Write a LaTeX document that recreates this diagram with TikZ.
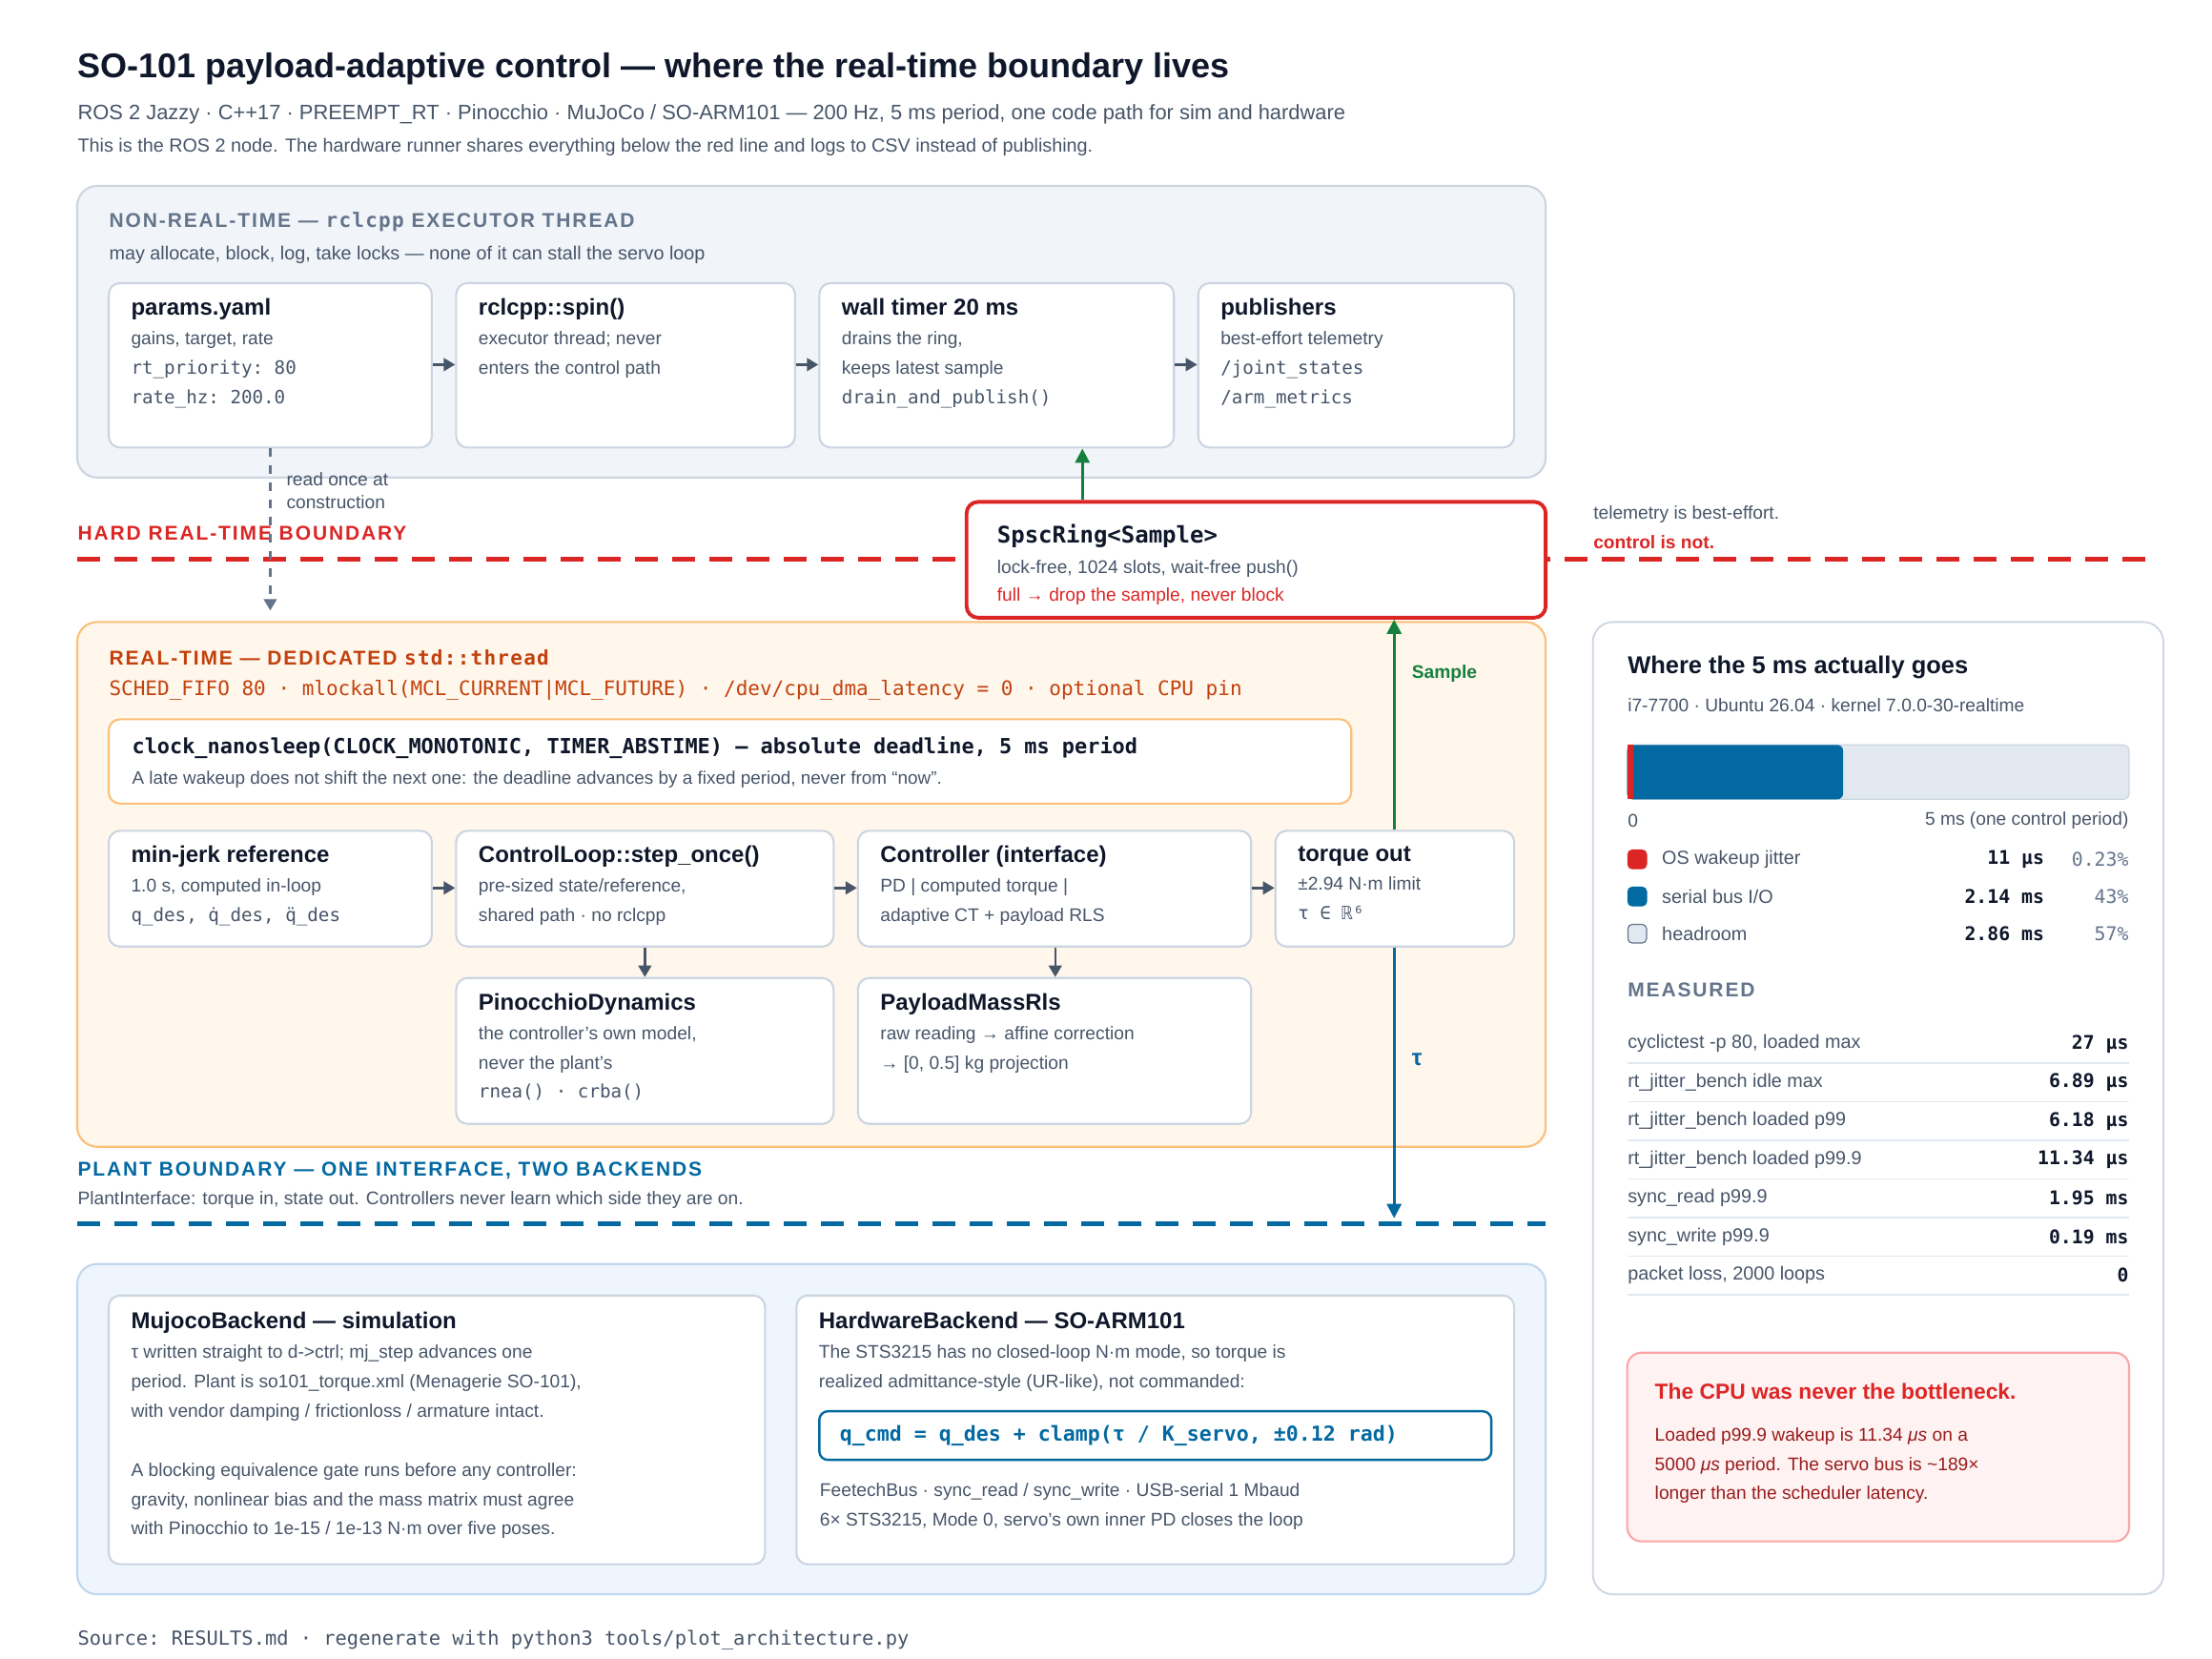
\documentclass[tikz,border=0pt]{standalone}
\usepackage{fontspec}
\setmainfont{Liberation Sans}
\setmonofont{DejaVu Sans Mono}
\newfontfamily\spaced[LetterSpace=9]{Liberation Sans}
\newfontfamily\spacedmono[LetterSpace=6]{DejaVu Sans Mono}
\usetikzlibrary{arrows.meta,positioning,fit}

\definecolor{ink}{HTML}{0F172A}
\definecolor{slate}{HTML}{475569}
\definecolor{mute}{HTML}{64748B}
\definecolor{cardline}{HTML}{CBD5E1}
\definecolor{nrtfill}{HTML}{F1F5F9}
\definecolor{rtfill}{HTML}{FFF6EC}
\definecolor{rtline}{HTML}{FBBF77}
\definecolor{rtink}{HTML}{C2410C}
\definecolor{hardred}{HTML}{DC2626}
\definecolor{plantblue}{HTML}{0369A1}
\definecolor{plantfill}{HTML}{EFF5FC}
\definecolor{plantline}{HTML}{BFD7EE}
\definecolor{okgreen}{HTML}{15803D}
\definecolor{barbg}{HTML}{E2E8F0}
\definecolor{warnfill}{HTML}{FEF2F2}
\definecolor{warnline}{HTML}{FCA5A5}
\definecolor{warnink}{HTML}{991B1B}

\newcommand{\ctitle}[1]{{\fontsize{8}{10.3}\selectfont\bfseries\color{ink}#1}}
\newcommand{\code}[1]{{\ttfamily #1}}

\tikzset{
  card/.style = {draw=cardline, fill=white, rounded corners=4pt, line width=0.7pt, inner sep=0pt},
  txt/.style = {inner sep=0pt, anchor=west, text=ink},
  body/.style = {inner sep=0pt, anchor=north west, align=left, text=slate,
    font=\fontsize{6.4}{10.3}\selectfont},
  flow/.style = {-{Triangle[length=4pt,width=4.5pt]}, draw=slate, line width=0.8pt},
  heading/.style = {txt, font=\fontsize{7}{8}\selectfont\spaced\bfseries}
}

\begin{document}
\begin{tikzpicture}[x=0.5pt, y=-0.5pt]
  \useasboundingbox[fill=white] (0,0) rectangle (1547,1160);

  % Title
  \node[txt, font=\fontsize{12}{14}\selectfont\bfseries] (title) at (54,48)
    {SO-101 payload-adaptive control — where the real-time boundary lives};
  \node[txt, text=slate, font=\fontsize{7.3}{9}\selectfont] (sub) at (54,80)
    {ROS 2 Jazzy · C++17 · PREEMPT\_RT · Pinocchio · MuJoCo / SO-ARM101 — 200 Hz, 5 ms period, one code path for sim and hardware};
  \node[txt, text=slate, font=\fontsize{6.6}{8}\selectfont] (note) at (54,103)
    {This is the ROS 2 node. The hardware runner shares everything below the red line and logs to CSV instead of publishing.};

  % Non-real-time panel
  \node[draw=cardline, fill=nrtfill, rounded corners=7pt, line width=0.7pt, inner sep=0pt,
    fit={(54,130) (1081,334)}] (nrt) {};
  \node[heading, text=mute] (nrtH) at (76,155)
    {NON-REAL-TIME — {\spacedmono rclcpp} EXECUTOR THREAD};
  \node[txt, text=slate, font=\fontsize{6.6}{8}\selectfont] (nrtC) at (76,178)
    {may allocate, block, log, take locks — none of it can stall the servo loop};

  \node[card, fit={(76,198) (302,313)}] (params) {};
  \node[body] at ([xshift=8pt,yshift=-5.5pt]params.north west)
    {\ctitle{params.yaml}\\gains, target, rate\\\code{rt\_priority: 80}\\\code{rate\_hz: 200.0}};
  \node[card, fit={(319,198) (556,313)}] (spin) {};
  \node[body] at ([xshift=8pt,yshift=-5.5pt]spin.north west)
    {\ctitle{rclcpp::spin()}\\executor thread; never\\enters the control path};
  \node[card, fit={(573,198) (821,313)}] (timer) {};
  \node[body] at ([xshift=8pt,yshift=-5.5pt]timer.north west)
    {\ctitle{wall timer 20 ms}\\drains the ring,\\keeps latest sample\\\code{drain\_and\_publish()}};
  \node[card, fit={(838,198) (1059,313)}] (pubs) {};
  \node[body] at ([xshift=8pt,yshift=-5.5pt]pubs.north west)
    {\ctitle{publishers}\\best-effort telemetry\\\code{/joint\_states}\\\code{/arm\_metrics}};

  \draw[flow] (params.east |- 0,255) -- (spin.west |- 0,255);
  \draw[flow] (spin.east |- 0,255) -- (timer.west |- 0,255);
  \draw[flow] (timer.east |- 0,255) -- (pubs.west |- 0,255);

  % Hard real-time boundary
  \node[heading, text=hardred] (hardH) at (54,373) {HARD REAL-TIME BOUNDARY};
  \draw[hardred, line width=1.6pt, dash pattern=on 8pt off 5pt] (54,391) -- (1505,391);
  \node[txt, text=slate, font=\fontsize{6.4}{8}\selectfont] (bestE) at (1114,360) {telemetry is best-effort.};
  \node[txt, text=hardred, font=\fontsize{6.4}{8}\selectfont\bfseries] (ctrlN) at (1114,379) {control is not.};

  % Real-time panel
  \node[draw=rtline, fill=rtfill, rounded corners=7pt, line width=0.7pt, inner sep=0pt,
    fit={(54,435) (1081,802)}] (rt) {};
  \node[card, draw=hardred, line width=1.3pt, fit={(676,351) (1081,432)}] (ring) {};
  \node[txt, font=\fontsize{8}{10}\selectfont\ttfamily\bfseries] (ringT) at (697,375) {SpscRing<Sample>};
  \node[txt, text=slate, font=\fontsize{6.4}{8}\selectfont] (ringA) at (697,398) {lock-free, 1024 slots, wait-free push()};
  \node[txt, text=hardred, font=\fontsize{6.4}{8}\selectfont] (ringB) at (697,417) {full → drop the sample, never block};

  \draw[dashed, draw=mute, line width=0.8pt, -{Triangle[length=4pt,width=4.5pt]}]
    (params.south -| 189,0) -- (189,427) coordinate (readEnd);
  \node[body, font=\fontsize{6.4}{8}\selectfont] (readN) at (200,330) {read once at\\construction};

  \node[heading, text=rtink] (rtH) at (76,460)
    {REAL-TIME — DEDICATED {\spacedmono std::thread}};
  \node[txt, text=rtink, font=\fontsize{7}{8}\selectfont\ttfamily] (rtC) at (76,483)
    {SCHED\_FIFO 80 · mlockall(MCL\_CURRENT|MCL\_FUTURE) · /dev/cpu\_dma\_latency = 0 · optional CPU pin};

  \node[card, draw=rtline, fit={(76,503) (945,562)}] (clock) {};
  \node[txt, font=\fontsize{7.3}{9}\selectfont\ttfamily\bfseries] (clockT) at (92,523)
    {clock\_nanosleep(CLOCK\_MONOTONIC, TIMER\_ABSTIME) — absolute deadline, 5 ms period};
  \node[txt, text=slate, font=\fontsize{6.3}{8}\selectfont] (clockN) at (92,545)
    {A late wakeup does not shift the next one: the deadline advances by a fixed period, never from “now”.};

  \node[card, fit={(76,581) (302,662)}] (minjerk) {};
  \node[body] at ([xshift=8pt,yshift=-5.5pt]minjerk.north west)
    {\ctitle{min-jerk reference}\\1.0 s, computed in-loop\\\code{q\_des, q̇\_des, q̈\_des}};
  \node[card, fit={(319,581) (583,662)}] (step) {};
  \node[body] at ([xshift=8pt,yshift=-5.5pt]step.north west)
    {\ctitle{ControlLoop::step\_once()}\\pre-sized state/reference,\\shared path · no rclcpp};
  \node[card, fit={(600,581) (875,662)}] (ctrl) {};
  \node[body] at ([xshift=8pt,yshift=-5.5pt]ctrl.north west)
    {\ctitle{Controller (interface)}\\PD | computed torque |\\adaptive CT + payload RLS};
  \node[card, fit={(892,581) (1059,662)}] (torque) {};
  \node[body] at ([xshift=8pt,yshift=-5.5pt]torque.north west)
    {\ctitle{torque out}\\±2.94 N·m limit\\\code{τ ∈ ℝ⁶}};
  \node[card, fit={(319,684) (583,786)}] (pino) {};
  \node[body] at ([xshift=8pt,yshift=-5.5pt]pino.north west)
    {\ctitle{PinocchioDynamics}\\the controller's own model,\\never the plant's\\\code{rnea() · crba()}};
  \node[card, fit={(600,684) (875,786)}] (rls) {};
  \node[body] at ([xshift=8pt,yshift=-5.5pt]rls.north west)
    {\ctitle{PayloadMassRls}\\raw reading → affine correction\\→ [0, 0.5] kg projection};

  \draw[flow] (minjerk.east |- 0,621) -- (step.west |- 0,621);
  \draw[flow] (step.east |- 0,621) -- (ctrl.west |- 0,621);
  \draw[flow] (ctrl.east |- 0,621) -- (torque.west |- 0,621);
  \draw[flow] (step.south -| 451,0) -- (pino.north -| 451,0);
  \draw[flow] (ctrl.south -| 738,0) -- (rls.north -| 738,0);

  % Sample and torque paths
  \draw[okgreen, line width=1pt, -{Triangle[length=5pt,width=5pt]}] (ring.north -| 757,0) -- (timer.south -| 757,0);
  \draw[okgreen, line width=1pt, -{Triangle[length=5pt,width=5pt]}] (torque.north -| 975,0) -- (ring.south -| 975,0);
  \node[txt, text=okgreen, font=\fontsize{6.4}{8}\selectfont\bfseries] (sampleL) at (987,471) {Sample};
  \coordinate (plantIn) at (975,852);
  \draw[plantblue, line width=1pt, -{Triangle[length=5pt,width=5pt]}] (torque.south -| 975,0) -- (plantIn);
  \node[txt, text=plantblue, font=\fontsize{8}{9}\selectfont\bfseries] (tauL) at (987,741) {τ};

  % Plant boundary
  \node[heading, text=plantblue] (plantH) at (54,819) {PLANT BOUNDARY — ONE INTERFACE, TWO BACKENDS};
  \node[txt, text=slate, font=\fontsize{6.4}{8}\selectfont] (plantC) at (54,839)
    {PlantInterface: torque in, state out. Controllers never learn which side they are on.};
  \draw[plantblue, line width=1.6pt, dash pattern=on 8pt off 5pt] (54,856) -- (1081,856);

  \node[draw=plantline, fill=plantfill, rounded corners=7pt, line width=0.7pt, inner sep=0pt,
    fit={(54,884) (1081,1115)}] (plant) {};
  \node[card, fit={(76,906) (535,1094)}] (mujoco) {};
  \node[body] at ([xshift=8pt,yshift=-6pt]mujoco.north west)
    {\ctitle{MujocoBackend — simulation}\\τ written straight to d->ctrl; mj\_step advances one\\period. Plant is so101\_torque.xml (Menagerie SO-101),\\with vendor damping / frictionloss / armature intact.\\[10.3pt]A blocking equivalence gate runs before any controller:\\gravity, nonlinear bias and the mass matrix must agree\\with Pinocchio to 1e-15 / 1e-13 N·m over five poses.};
  \node[card, fit={(557,906) (1059,1094)}] (hw) {};
  \node[body] at ([xshift=8pt,yshift=-6pt]hw.north west)
    {\ctitle{HardwareBackend — SO-ARM101}\\The STS3215 has no closed-loop N·m mode, so torque is\\realized admittance-style (UR-like), not commanded:};
  \node[card, draw=plantblue, line width=0.8pt, rounded corners=3pt, fit={(573,987) (1043,1021)}] (law) {};
  \node[txt, text=plantblue, font=\fontsize{7.2}{9}\selectfont\ttfamily\bfseries] (lawT) at (587,1004)
    {q\_cmd = q\_des + clamp(τ / K\_servo, ±0.12 rad)};
  \node[body] at (573,1037)
    {FeetechBus · sync\_read / sync\_write · USB-serial 1 Mbaud\\6× STS3215, Mode 0, servo's own inner PD closes the loop};

  \node[txt, text=slate, font=\fontsize{6.8}{8}\selectfont\ttfamily] (src) at (54,1147)
    {Source: RESULTS.md · regenerate with python3 tools/plot\_architecture.py};

  % Budget panel
  \node[card, rounded corners=7pt, line width=0.6pt, fit={(1114,435) (1513,1115)}] (budget) {};
  \node[txt, font=\fontsize{8.5}{10}\selectfont\bfseries] (budgetT) at (1138,467) {Where the 5 ms actually goes};
  \node[txt, text=slate, font=\fontsize{6.4}{8}\selectfont] (budgetS) at (1138,493) {i7-7700 · Ubuntu 26.04 · kernel 7.0.0-30-realtime};
  \node[draw=cardline, fill=barbg, rounded corners=2pt, inner sep=0pt, fit={(1138,521) (1489,559)}] (bar) {};
  \fill[plantblue, rounded corners=2pt] (1138,521) rectangle (1289,559);
  \fill[hardred] (1138,521) rectangle (1142,559);
  \node[txt, text=slate, font=\fontsize{6.4}{8}\selectfont] (bar0) at (1138,574) {0};
  \node[txt, anchor=east, text=slate, font=\fontsize{6.4}{8}\selectfont] (bar5) at (1489,574) {5 ms (one control period)};

  \foreach \c/\e/\lab/\val/\pct [count=\i] in {hardred/hardred/OS wakeup jitter/11 µs/0.23\%,
      plantblue/plantblue/serial bus I\slash O/2.14 ms/43\%, barbg/mute/headroom/2.86 ms/57\%} {
    \node[fill=\c, draw=\e, rounded corners=1.5pt, minimum size=6.5pt, inner sep=0pt]
      (sw\i) at (1145,{575+26*\i}) {};
    \node[txt, text=slate, font=\fontsize{6.6}{8}\selectfont] (lg\i) at (1162,{575+26*\i}) {\lab};
    \node[txt, anchor=east, font=\fontsize{6.6}{8}\selectfont\ttfamily\bfseries] (lv\i) at (1430,{575+26*\i}) {\val};
    \node[txt, anchor=east, text=mute, font=\fontsize{6.6}{8}\selectfont\ttfamily] (lp\i) at (1489,{575+26*\i}) {\pct};
  }

  \node[heading, text=mute] (measH) at (1138,692) {MEASURED};
  \foreach \lab/\val [count=\i] in {{cyclictest -p 80, loaded max}/27 µs,
      rt\_jitter\_bench idle max/6.89 µs, rt\_jitter\_bench loaded p99/6.18 µs,
      rt\_jitter\_bench loaded p99.9/11.34 µs, sync\_read p99.9/1.95 ms,
      sync\_write p99.9/0.19 ms, {packet loss, 2000 loops}/0} {
    \node[txt, text=slate, font=\fontsize{6.6}{8}\selectfont] (ml\i) at (1138,{703+27*\i}) {\lab};
    \node[txt, anchor=east, font=\fontsize{6.6}{8}\selectfont\ttfamily\bfseries] (mv\i) at (1489,{703+27*\i}) {\val};
    \draw[barbg, line width=0.6pt] (1138,{716.5+27*\i}) -- (1489,{716.5+27*\i});
  }

  \node[draw=warnline, fill=warnfill, rounded corners=5pt, line width=0.7pt, inner sep=0pt,
    fit={(1138,946) (1489,1078)}] (verdict) {};
  \node[txt, text=hardred, font=\fontsize{7.6}{9}\selectfont\bfseries] (verdictT) at (1157,973) {The CPU was never the bottleneck.};
  \node[body, text=warnink] (verdictB) at (1157,998)
    {Loaded p99.9 wakeup is 11.34 \textit{μs} on a\\5000 \textit{μs} period. The servo bus is \textasciitilde189×\\longer than the scheduler latency.};
\end{tikzpicture}
\end{document}
